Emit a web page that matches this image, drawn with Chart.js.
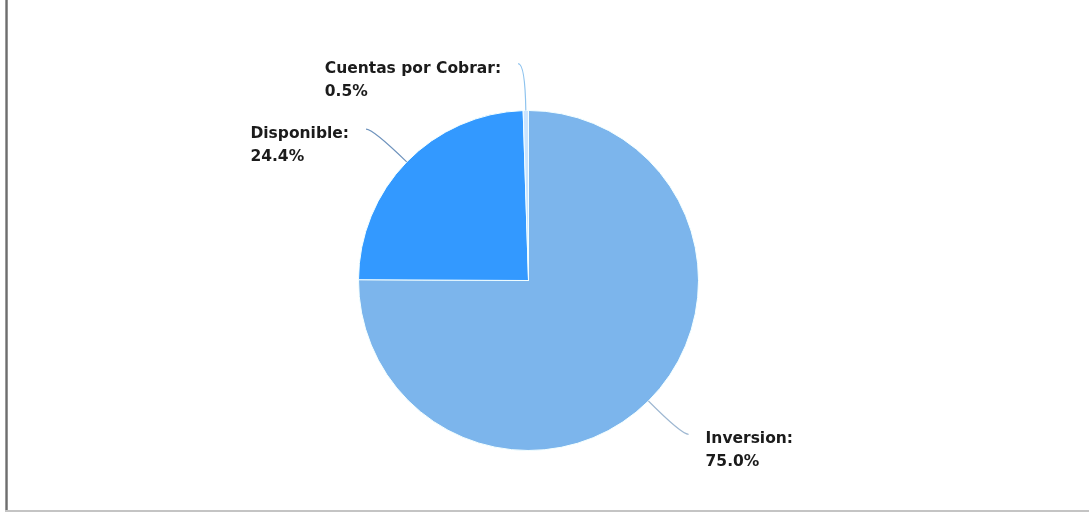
<!DOCTYPE html>
<html>
<head>
<meta charset="utf-8">
<script src="https://cdn.jsdelivr.net/npm/chart.js@4/dist/chart.umd.min.js"></script>
<style>
  html, body { margin: 0; padding: 0; background: #ffffff; }
  #wrap { position: relative; width: 1089px; height: 513px; overflow: hidden; background: #fff; }
  #frameLeft { position: absolute; left: 5px; top: 0; width: 3px; height: 511px;
    background: linear-gradient(to right, #b0b0b0, #6e6e6e, #a8a8a8); }
  #frameBottom { position: absolute; left: 5px; top: 510px; width: 1084px; height: 2px; background: #c4c4c4; }
  canvas { position: absolute; left: 0; top: 0; }
</style>
</head>
<body>
<div id="wrap">
  <canvas id="c" width="1089" height="513"></canvas>
  <div id="frameLeft"></div>
  <div id="frameBottom"></div>
</div>
<script>
const categories = ['Inversion', 'Disponible', 'Cuentas por Cobrar'];
const shares = [75.0, 24.4, 0.5];
const sliceColors = ['#7cb5ec', '#3399ff', '#c9e4ff'];
const connectorColors = ['#9fb8d2', '#6f93bd', '#8ec3ee'];

const labelPlugin = {
  id: 'outsideLabels',
  afterDatasetsDraw(chart) {
    const ctx = chart.ctx;
    const meta = chart.getDatasetMeta(0);
    const ext = 47, hook = 7, gap = 17, lineH = 23;
    ctx.save();
    meta.data.forEach((arc, i) => {
      const p = arc.getProps(['x', 'y', 'startAngle', 'endAngle', 'outerRadius'], true);
      const a = (p.startAngle + p.endAngle) / 2;
      const cos = Math.cos(a), sin = Math.sin(a);
      const x0 = p.x + p.outerRadius * cos, y0 = p.y + p.outerRadius * sin;
      const R = p.outerRadius + ext;
      const x1 = p.x + R * cos, y1 = p.y + R * sin;
      const side = cos >= 0 ? 1 : -1;
      const x2 = x1 + side * hook, y2 = y1;
      ctx.beginPath();
      ctx.moveTo(x0, y0);
      ctx.quadraticCurveTo(x1, y1, x2, y2);
      ctx.strokeStyle = connectorColors[i];
      ctx.lineWidth = 1.2;
      ctx.stroke();
      ctx.font = 'bold 15.5px "DejaVu Sans", Verdana, sans-serif';
      ctx.fillStyle = '#1b1b1b';
      ctx.textBaseline = 'middle';
      ctx.textAlign = 'left';
      const l1 = categories[i] + ':';
      const l2 = shares[i].toFixed(1) + '%';
      let tx;
      if (side > 0) {
        tx = x2 + gap;
      } else {
        const w = Math.max(ctx.measureText(l1).width, ctx.measureText(l2).width);
        tx = x2 - gap - w;
      }
      ctx.fillText(l1, tx, y2 + 5);
      ctx.fillText(l2, tx, y2 + 5 + lineH);
    });
    ctx.restore();
  }
};

new Chart(document.getElementById('c'), {
  type: 'pie',
  data: {
    labels: categories,
    datasets: [{
      data: shares,
      backgroundColor: sliceColors,
      borderColor: '#f4ffff',
      borderWidth: 1
    }]
  },
  options: {
    responsive: false,
    animation: false,
    layout: { padding: { top: 110, bottom: 62, left: 0, right: 32 } },
    plugins: {
      legend: { display: false },
      tooltip: { enabled: false }
    }
  },
  plugins: [labelPlugin]
});
</script>
</body>
</html>
